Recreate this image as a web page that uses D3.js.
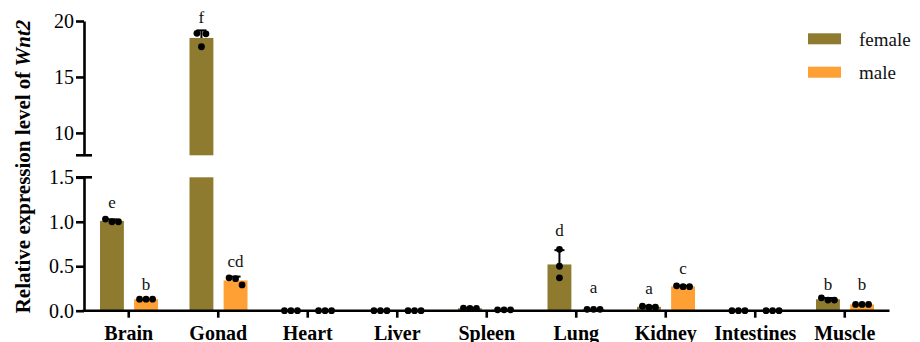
<!DOCTYPE html>
<html>
<head>
<meta charset="utf-8">
<script src="https://cdn.jsdelivr.net/npm/d3@7"></script>
<style>
  html, body { margin: 0; padding: 0; background: #fff; }
  svg { display: block; }
  svg text { font-family: "Liberation Serif", serif !important; }
</style>
</head>
<body>
<svg id="chart" width="920" height="342"></svg>
<script>
// ---- data ----
const categories = ["Brain", "Gonad", "Heart", "Liver", "Spleen", "Lung", "Kidney", "Intestines", "Muscle"];
const seriesNames = ["female", "male"];
const femaleReps = [
  [1.03, 1.00, 1.00],
  [18.9, 17.7, 18.85],
  [0.0, 0.0, 0.0],
  [0.0, 0.0, 0.0],
  [0.03, 0.027, 0.025],
  [0.69, 0.50, 0.37],
  [0.05, 0.04, 0.04],
  [0.0, 0.0, 0.0],
  [0.145, 0.12, 0.12]
];
const maleReps = [
  [0.13, 0.13, 0.13],
  [0.37, 0.36, 0.29],
  [0.0, 0.0, 0.0],
  [0.0, 0.0, 0.0],
  [0.01, 0.01, 0.01],
  [0.015, 0.015, 0.015],
  [0.28, 0.27, 0.27],
  [0.0, 0.0, 0.0],
  [0.07, 0.07, 0.07]
];
const femaleLetters = ["e", "f", "", "", "", "d", "a", "", "b"];
const maleLetters   = ["b", "cd", "", "", "", "a", "c", "", "b"];
const femaleLetterLevel = [1.15, 19.78, 0, 0, 0, 0.84, 0.19, 0, 0.23];
const maleLetterLevel   = [0.23, 0.49, 0, 0, 0, 0.20, 0.41, 0, 0.23];
const lowTicks = [0, 0.5, 1.0, 1.5];
const highTicks = [10, 15, 20];
const lowDomain = [0, 1.5];
const highDomain = [8, 20];
const colors = { female: "#8E7B2F", male: "#FFA034" };
const yTitle = "Relative expression level of ";
const yTitleGene = "Wnt2";

// ---- layout ----
const svg = d3.select("#chart");
const axisX = 84, axisRight = 889.5;
const lowBottom = 310.7, lowTop = 177.3;
const highBottom = 155.3, highTop = 21;
const serif = "Liberation Serif";

const x = d3.scaleBand().domain(categories).range([axisX, axisRight]).padding(0);
const xSub = d3.scaleBand().domain(seriesNames).range([16, 74]).paddingInner(0.3);
const yLow = d3.scaleLinear().domain(lowDomain).range([lowBottom, lowTop]);
const yHigh = d3.scaleLinear().domain(highDomain).range([highBottom, highTop]);
function yPos(v) { return v > lowDomain[1] ? yHigh(v) : yLow(v); }

const groups = [];
categories.forEach((c, i) => {
  [["female", femaleReps[i], femaleLetters[i], femaleLetterLevel[i]],
   ["male", maleReps[i], maleLetters[i], maleLetterLevel[i]]].forEach(([s, reps, letter, lvl]) => {
    const mean = d3.mean(reps);
    const sd = d3.deviation(reps) || 0;
    groups.push({ cat: c, series: s, reps, mean, sd, letter, lvl,
      cx: x(c) + xSub(s) + xSub.bandwidth() / 2 });
  });
});

// ---- bars ----
const barG = svg.append("g");
groups.forEach(g => {
  const left = x(g.cat) + xSub(g.series);
  const w = xSub.bandwidth();
  if (g.mean > lowDomain[1]) {
    barG.append("rect").attr("x", left).attr("width", w)
      .attr("y", yLow(lowDomain[1])).attr("height", yLow(0) - yLow(lowDomain[1]))
      .attr("fill", colors[g.series]);
    barG.append("rect").attr("x", left).attr("width", w)
      .attr("y", yHigh(g.mean)).attr("height", yHigh(highDomain[0]) - yHigh(g.mean))
      .attr("fill", colors[g.series]);
  } else {
    barG.append("rect").attr("x", left).attr("width", w)
      .attr("y", yLow(g.mean)).attr("height", yLow(0) - yLow(g.mean))
      .attr("fill", colors[g.series]);
  }
});

// ---- error bars (upper only) ----
const errG = svg.append("g").attr("stroke", "#000").attr("stroke-width", 2);
groups.forEach(g => {
  if (g.sd <= 0) return;
  const y0 = yPos(g.mean), y1 = yPos(g.mean + g.sd);
  errG.append("line").attr("x1", g.cx).attr("x2", g.cx).attr("y1", y0).attr("y2", y1);
  errG.append("line").attr("x1", g.cx - 5).attr("x2", g.cx + 5).attr("y1", y1).attr("y2", y1);
});

// ---- points (simple beeswarm) ----
const r = 3.4;
const ptG = svg.append("g").attr("fill", "#000");
groups.forEach(g => {
  const pts = g.reps.map(v => ({ v, py: yPos(v) }));
  const sorted = pts.slice().sort((a, b) => a.py - b.py);
  const clusters = [];
  sorted.forEach(p => {
    const last = clusters[clusters.length - 1];
    if (last && Math.abs(p.py - last[last.length - 1].py) < 2 * r) last.push(p);
    else clusters.push([p]);
  });
  clusters.forEach(cl => {
    const offs = cl.length === 1 ? [0] : cl.length === 2 ? [-4.5, 4.5] : [-6.5, 0, 6.5];
    cl.forEach((p, k) => {
      ptG.append("circle").attr("cx", g.cx + offs[k]).attr("cy", p.py).attr("r", r);
    });
  });
});

// ---- letters ----
svg.append("g").selectAll("text").data(groups.filter(g => g.letter))
  .join("text")
  .attr("x", d => d.cx)
  .attr("y", d => yPos(d.lvl))
  .attr("text-anchor", "middle")
  .attr("font-family", serif).attr("font-size", 17)
  .attr("fill", "#111")
  .text(d => d.letter);

// ---- axes ----
function styleAxis(sel) {
  sel.attr("font-family", serif);
  sel.selectAll("path, line").attr("stroke", "#000").attr("stroke-width", 2.6);
  sel.selectAll("text").attr("font-family", serif).attr("fill", "#000");
}
const yAxisLow = svg.append("g").attr("transform", `translate(${axisX},0)`)
  .call(d3.axisLeft(yLow).tickValues(lowTicks).tickFormat(d3.format(".1f")).tickSize(8).tickSizeOuter(0).tickPadding(2))
  .call(styleAxis);
yAxisLow.selectAll("text").attr("font-size", 20);
const yAxisHigh = svg.append("g").attr("transform", `translate(${axisX},0)`)
  .call(d3.axisLeft(yHigh).tickValues(highTicks).tickFormat(d3.format("d")).tickSize(8).tickSizeOuter(0).tickPadding(2))
  .call(styleAxis);
yAxisHigh.selectAll("text").attr("font-size", 20);
// break caps
[yHigh(highDomain[0]), yLow(lowDomain[1])].forEach(yy => {
  svg.append("line").attr("x1", axisX - 8).attr("x2", axisX + 8).attr("y1", yy).attr("y2", yy)
    .attr("stroke", "#000").attr("stroke-width", 2.6);
});

const xAxis = svg.append("g").attr("transform", `translate(0,${lowBottom})`)
  .call(d3.axisBottom(x).tickSize(7).tickSizeOuter(0).tickPadding(8))
  .call(styleAxis);
xAxis.select(".domain").attr("d", `M${axisX - 1.3},0H${axisRight}`);
xAxis.selectAll("text").attr("font-size", 20).attr("font-weight", "bold");

// ---- y title ----
const title = svg.append("text")
  .attr("transform", `translate(30,166.5) rotate(-90)`)
  .attr("text-anchor", "middle")
  .attr("font-family", serif).attr("font-size", 21).attr("font-weight", "bold");
title.append("tspan").text(yTitle);
title.append("tspan").attr("font-style", "italic").text(yTitleGene);

// ---- legend ----
const legend = svg.append("g");
seriesNames.forEach((s, i) => {
  const gy = 33.3 + i * 33.4;
  legend.append("rect").attr("x", 808).attr("y", gy).attr("width", 33).attr("height", 11).attr("fill", colors[s]);
  legend.append("text").attr("x", 859).attr("y", gy + 12.5)
    .attr("font-family", serif).attr("font-size", 19).attr("fill", "#111").text(s);
});
</script>
</body>
</html>
